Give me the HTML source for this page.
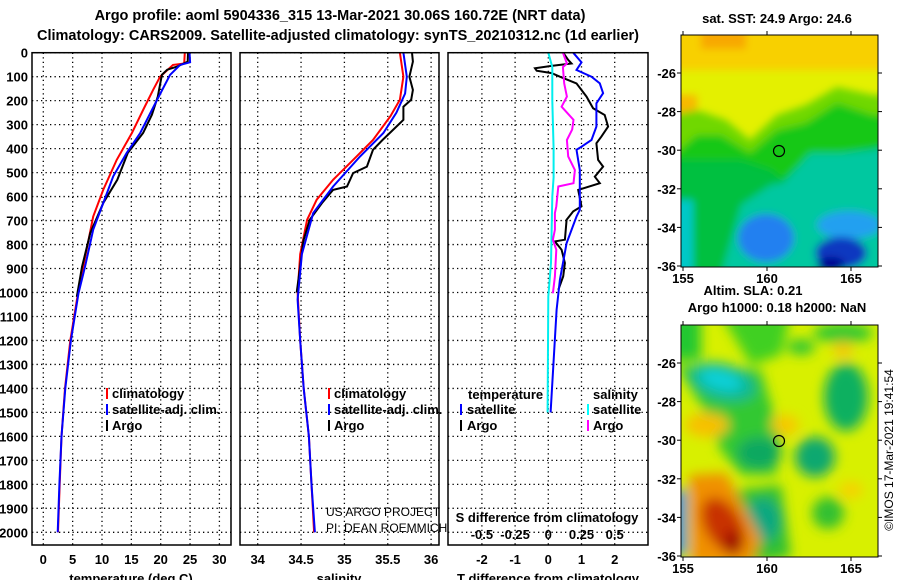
<!DOCTYPE html>
<html><head><meta charset="utf-8">
<style>
html,body{margin:0;padding:0;background:#fff;}
svg{display:block;font-family:"Liberation Sans",Arial,sans-serif;}
.b{font-weight:bold;font-size:13px;}
.t{font-weight:bold;font-size:14.5px;}
</style></head>
<body>
<svg id="chart" width="900" height="580" viewBox="0 0 900 580">
<defs>
<clipPath id="c1"><rect x="32" y="52" width="199" height="493"/></clipPath>
<clipPath id="c2"><rect x="240" y="52" width="199" height="493"/></clipPath>
<clipPath id="c3"><rect x="448" y="52" width="200" height="493"/></clipPath>
<clipPath id="cm1"><rect x="681" y="35" width="197" height="232"/></clipPath>
<clipPath id="cm2"><rect x="681" y="325" width="197" height="232"/></clipPath>
<filter id="bl" x="-20%" y="-20%" width="140%" height="140%"><feGaussianBlur stdDeviation="4"/></filter>
<filter id="bl2" x="-20%" y="-20%" width="140%" height="140%"><feGaussianBlur stdDeviation="6"/></filter>
</defs>

<text class="t" x="340" y="20" text-anchor="middle">Argo profile: aoml 5904336_315 13-Mar-2021 30.06S 160.72E (NRT data)</text>
<text class="t" x="338" y="40" text-anchor="middle">Climatology: CARS2009. Satellite-adjusted climatology: synTS_20210312.nc (1d earlier)</text>

<g id="grid"></g>
<g id="series"></g>
<g id="axes"></g>

<!-- legends -->
<g class="b">
<rect x="106" y="388" width="2" height="11" fill="#f00"/><text x="112" y="398">climatology</text>
<rect x="106" y="404" width="2" height="11" fill="#00f"/><text x="112" y="414">satellite-adj. clim.</text>
<rect x="106" y="420" width="2" height="11" fill="#000"/><text x="112" y="430">Argo</text>
</g>
<g class="b">
<rect x="328" y="388" width="2" height="11" fill="#f00"/><text x="334" y="398">climatology</text>
<rect x="328" y="404" width="2" height="11" fill="#00f"/><text x="334" y="414">satellite-adj. clim.</text>
<rect x="328" y="420" width="2" height="11" fill="#000"/><text x="334" y="430">Argo</text>
</g>
<g class="b">
<text x="468" y="399">temperature</text>
<rect x="460" y="404" width="2" height="11" fill="#00f"/><text x="467" y="414">satellite</text>
<rect x="460" y="420" width="2" height="11" fill="#000"/><text x="467" y="430">Argo</text>
<text x="593" y="399">salinity</text>
<rect x="587" y="404" width="2" height="11" fill="#0ff"/><text x="593" y="414">satellite</text>
<rect x="587" y="420" width="2" height="11" fill="#f0f"/><text x="593" y="430">Argo</text>
</g>
<text x="326" y="516" font-size="12">US ARGO PROJECT</text>
<text x="326" y="532" font-size="12">PI: DEAN ROEMMICH</text>
<text class="b" x="547" y="522" text-anchor="middle">S difference from climatology</text>

<!-- maps -->
<g clip-path="url(#cm1)">
<rect x="681" y="35" width="197" height="232" fill="#e4f000"/>
<g filter="url(#bl)" transform="translate(681,35)">
<rect x="-10" y="-10" width="220" height="45" fill="#f8d000"/>
<rect x="20" y="-10" width="45" height="24" fill="#f8a800"/>
<rect x="-10" y="60" width="26" height="62" fill="#f8b800"/>
<polygon points="-10,80 16,75 45,85 69,105 96,80 125,70 156,52 192,60 210,60 210,240 -10,240" fill="#70d800"/>
<polygon points="-10,122 16,100 40,100 69,118 96,95 125,88 156,68 192,80 210,80 210,240 -10,240" fill="#18c818"/>
<polygon points="-10,125 60,125 90,135 102,145 129,120 160,118 192,112 210,110 210,240 -10,240" fill="#00c040"/>
<polygon points="60,170 90,150 102,148 129,118 160,118 192,115 210,110 210,240 40,240" fill="#00c8a0"/>
<rect x="-10" y="165" width="22" height="80" fill="#00c8c8"/>
<ellipse cx="85" cy="203" rx="28" ry="24" fill="#2080f0"/>
<ellipse cx="168" cy="190" rx="32" ry="14" fill="#20a0f0"/>
<ellipse cx="160" cy="218" rx="26" ry="16" fill="#0838c0"/>
<ellipse cx="150" cy="230" rx="14" ry="8" fill="#000090"/>
</g>
</g>
<rect x="681" y="35" width="197" height="232" fill="none" stroke="#000"/>
<circle cx="779" cy="151" r="5.5" fill="none" stroke="#000" stroke-width="1.2"/>

<g clip-path="url(#cm2)">
<rect x="681" y="325" width="197" height="232" fill="#d8f000"/>
<g filter="url(#bl2)" transform="translate(681,325)">
<rect x="-10" y="-10" width="30" height="45" fill="#20c830"/>
<polygon points="40,-10 110,-10 100,30 70,40" fill="#40d020"/>
<polygon points="-5,40 80,45 90,80 100,110 95,150 60,150 40,125 20,80" fill="#30c830"/>
<ellipse cx="42" cy="57" rx="34" ry="18" fill="#10b890" transform="rotate(15 42 57)"/>
<ellipse cx="40" cy="55" rx="22" ry="10" fill="#10d0d8" transform="rotate(15 40 55)"/>
<ellipse cx="78" cy="128" rx="22" ry="16" fill="#10a860"/>
<polygon points="55,165 100,160 110,232 60,240" fill="#30c030"/>
<ellipse cx="82" cy="195" rx="18" ry="22" fill="#10a880"/>
<ellipse cx="165" cy="72" rx="22" ry="34" fill="#10b060"/>
<ellipse cx="134" cy="132" rx="20" ry="20" fill="#10a870"/>
<ellipse cx="147" cy="188" rx="16" ry="16" fill="#30c030"/>
<ellipse cx="120" cy="22" rx="14" ry="8" fill="#30c830"/>
<ellipse cx="162" cy="8" rx="30" ry="10" fill="#30c830"/>
<ellipse cx="26" cy="100" rx="22" ry="12" fill="#f8c000"/>
<ellipse cx="104" cy="100" rx="14" ry="10" fill="#f8c800"/>
<ellipse cx="162" cy="25" rx="10" ry="8" fill="#f8c800"/>
<ellipse cx="170" cy="165" rx="12" ry="8" fill="#f8d000"/>
<polygon points="8,150 45,148 80,215 70,240 10,240" fill="#f09000"/>
<ellipse cx="42" cy="200" rx="18" ry="30" fill="#c83000" transform="rotate(-30 42 200)"/>
<ellipse cx="52" cy="218" rx="10" ry="12" fill="#a01000"/>
<rect x="-10" y="165" width="15" height="65" fill="#2090f0"/>
</g>
</g>
<rect x="681" y="325" width="197" height="232" fill="none" stroke="#000"/>
<circle cx="779" cy="441" r="5.5" fill="none" stroke="#000" stroke-width="1.2"/>

<text class="b" x="777" y="23" text-anchor="middle">sat. SST: 24.9 Argo: 24.6</text>
<text class="b" x="753" y="295" text-anchor="middle">Altim. SLA: 0.21</text>
<text class="b" x="777" y="312" text-anchor="middle">Argo h1000: 0.18 h2000: NaN</text>
<text x="893" y="450" font-size="12" text-anchor="middle" transform="rotate(-90 893 450)">©IMOS 17-Mar-2021 19:41:54</text>
<g id="mapaxes"></g>
</svg>

<script>
// ---- temperature panel data ----
const argoDepth = [0,37,58,71,92,183,259,335,418,530,627,752,893,1018];
const argoTemp  = [24.65,24.6,22.8,21.1,20.2,19.5,18.5,17.0,14.4,12.6,10.2,8.0,6.6,5.7];
const climDepth = [0,45,51,100,155,239,335,447,572,683,830,989,1200,1400,1600,1800,2000];
const climTemp  = [24.1,24.0,22.1,19.9,18.7,17.0,15.1,12.5,10.2,8.5,7.3,6.0,4.6,3.7,3.1,2.8,2.5];
const satDepth  = [0,40,51,92,149,239,335,418,516,627,738,893,1003,1200,1400,1600,1800,2000];
const satTemp   = [24.9,25.0,23.3,21.6,20.4,18.5,16.5,14.2,11.9,10.2,8.5,7.1,6.0,4.7,3.75,3.1,2.75,2.45];
// ---- salinity panel data ----
const argoSalDepth = [0,37,100,155,196,225,280,308,364,405,475,502,558,572,627,697,780,800,890,1000];
const argoSal      = [35.78,35.79,35.75,35.79,35.77,35.68,35.68,35.60,35.44,35.33,35.26,35.10,35.03,34.87,34.74,34.60,34.53,34.52,34.49,34.45];
const climSalDepth = [0,100,196,265,364,447,530,613,697,840,1000,1200,1400,1600,1800,2000];
const climSal      = [35.64,35.68,35.64,35.53,35.33,35.10,34.87,34.68,34.57,34.49,34.46,34.49,34.53,34.59,34.62,34.65];
const satSalDepth  = [0,100,170,250,335,433,558,669,840,1030,1200,1400,1600,1800,2000];
const satSal       = [35.68,35.72,35.70,35.60,35.45,35.18,34.87,34.64,34.51,34.46,34.49,34.53,34.59,34.62,34.66];
// ---- difference panel data ----
const argoTdDepth = [0,30,45,55,65,75,85,100,128,183,232,260,308,350,378,447,475,517,544,572,641,662,697,780,787,822,877,933,989];
const argoTd      = [0.45,0.6,0.7,0.1,-0.4,-0.35,0.1,0.35,0.85,1.15,1.35,1.7,1.8,1.6,1.45,1.5,1.65,1.4,1.55,0.9,1.0,0.75,0.55,0.5,0.2,0.4,0.5,0.45,0.3];
const satTdDepth  = [0,40,72,100,128,169,211,308,364,392,405,489,655,683,794,947,1072,1500];
const satTd       = [0.75,1.0,0.85,1.3,1.55,1.65,1.45,1.45,1.3,1.0,0.85,0.95,0.95,0.85,0.55,0.35,0.25,0.07];
const argoSdDepth = [0,45,60,128,183,225,280,320,364,433,489,544,558,641,669,738,780,822,933,1003];
const argoSd      = [0.11,0.14,0.11,0.12,0.14,0.10,0.19,0.18,0.14,0.15,0.2,0.19,0.075,0.06,0.05,0.05,0.035,0.06,0.05,0.035];
const satSdDepth  = [0,60,200,400,520,600,877,1017,1500];
const satSd       = [0.0,0.03,0.03,0.04,0.04,0.03,0.02,0.0,-0.005];
// ---- tick labels ----
const depthTicks = [0,100,200,300,400,500,600,700,800,900,1000,1100,1200,1300,1400,1500,1600,1700,1800,1900,2000];
const tempTicks = [0,5,10,15,20,25,30];
const salTicks = [34,34.5,35,35.5,36];
const tdTicks = [-2,-1,0,1,2];
const sdTicks = [-0.5,-0.25,0,0.25,0.5];
const latTicks = [-26,-28,-30,-32,-34,-36];
const lonTicks = [155,160,165];

const NS = "http://www.w3.org/2000/svg";
const yD = d => 52.7 + 0.2398*d;
const xT = t => 43.3 + 5.87*t;
const xS = s => 257.7 + 86.7*(s-34);
const xTd = v => 548.3 + 33.2*v;
const xSd = v => 548.3 + 132.8*v;
const yLat1 = l => 73 + (-26-l)*19.3;
const yLat2 = l => 363 + (-26-l)*19.3;
const xLon = l => 767 + (l-160)*16.8;

function mk(tag, attrs, parent){
  const e = document.createElementNS(NS, tag);
  for (const k in attrs) e.setAttribute(k, attrs[k]);
  parent.appendChild(e);
  return e;
}
const grid = document.getElementById('grid');
const series = document.getElementById('series');
const axes = document.getElementById('axes');
const mapaxes = document.getElementById('mapaxes');

const panels = [
  {x0:32, x1:231, clip:'c1', name:'temperature'},
  {x0:240, x1:439, clip:'c2', name:'salinity'},
  {x0:448, x1:648, clip:'c3', name:'difference'}
];
const dash = {stroke:'#000','stroke-width':1.3,'stroke-dasharray':'1.3 3.2'};

panels.forEach(p => {
  depthTicks.forEach(d => {
    const l = mk('line', Object.assign({x1:p.x0, x2:p.x1, y1:yD(d), y2:yD(d)}, dash), grid);
    
    
  });
  const r = mk('rect', {x:p.x0, y:52.7, width:p.x1-p.x0, height:545-52.7, fill:'none', stroke:'#000','stroke-width':1.5}, axes);
  
  
});

function vgrid(xs, fn, name){
  xs.forEach(v => {
    const l = mk('line', Object.assign({x1:fn(v), x2:fn(v), y1:52.7, y2:545}, dash), grid);
    
    
  });
}
vgrid(tempTicks, xT, 'temperature');
vgrid(salTicks, xS, 'salinity');
vgrid(tdTicks, xTd, 't-diff');

depthTicks.forEach(d => {
  const t = mk('text', {x:28, y:yD(d)+5, 'text-anchor':'end', class:'b'}, axes);
  t.textContent = d;
  
  
});
function xlabels(xs, fn, y, name){
  xs.forEach(v => {
    const t = mk('text', {x:fn(v), y:y, 'text-anchor':'middle', class:'b'}, axes);
    t.textContent = v;
    
    
  });
}
xlabels(tempTicks, xT, 564, 'temperature');
xlabels(salTicks, xS, 564, 'salinity');
xlabels(tdTicks, xTd, 564, 't-diff');
xlabels(sdTicks, xSd, 539, 's-diff');

[['temperature (deg C)',131,'temperature-axis-title'],['salinity',339,'salinity-axis-title'],['T difference from climatology',548,'t-diff-axis-title']].forEach(a => {
  const t = mk('text', {x:a[1], y:583, 'text-anchor':'middle', class:'b'}, axes);
  t.textContent = a[0];
  
  
});

function line(depths, vals, fx, color, clip, name){
  const pts = depths.map((d,i) => fx(vals[i]).toFixed(1) + ',' + yD(d).toFixed(1)).join(' ');
  const pl = mk('polyline', {points:pts, fill:'none', stroke:color, 'stroke-width':2, 'clip-path':'url(#'+clip+')'}, series);
  
  
}
line(climDepth, climTemp, xT, '#f00', 'c1', 'temperature-climatology-line');
line(argoDepth, argoTemp, xT, '#000', 'c1', 'temperature-argo-line');
line(satDepth, satTemp, xT, '#00f', 'c1', 'temperature-satellite-line');
line(climSalDepth, climSal, xS, '#f00', 'c2', 'salinity-climatology-line');
line(argoSalDepth, argoSal, xS, '#000', 'c2', 'salinity-argo-line');
line(satSalDepth, satSal, xS, '#00f', 'c2', 'salinity-satellite-line');
line(argoTdDepth, argoTd, xTd, '#000', 'c3', 't-diff-argo-line');
line(satTdDepth, satTd, xTd, '#00f', 'c3', 't-diff-satellite-line');
line(satSdDepth, satSd, xSd, '#0ee', 'c3', 's-diff-satellite-line');
line(argoSdDepth, argoSd, xSd, '#f0f', 'c3', 's-diff-argo-line');

// map axes
[[yLat1,'sst'],[yLat2,'sla']].forEach(m => {
  latTicks.forEach(l => {
    const y = m[0](l);
    const t = mk('text', {x:676, y:y+5, 'text-anchor':'end', class:'b'}, mapaxes);
    t.textContent = l;
    
    
    const k1 = mk('line', {x1:677, x2:681, y1:y, y2:y, stroke:'#000'}, mapaxes);
    
    
    const k2 = mk('line', {x1:878, x2:882, y1:y, y2:y, stroke:'#000'}, mapaxes);
    
    
  });
});
[[283,267,35,'sst'],[573,557,325,'sla']].forEach(m => {
  lonTicks.forEach(l => {
    const t = mk('text', {x:xLon(l), y:m[0], 'text-anchor':'middle', class:'b'}, mapaxes);
    t.textContent = l;
    
    
    const k = mk('line', {x1:xLon(l), x2:xLon(l), y1:m[1], y2:m[1]+4, stroke:'#000'}, mapaxes);
    
    
    const k2 = mk('line', {x1:xLon(l), x2:xLon(l), y1:m[2]-4, y2:m[2], stroke:'#000'}, mapaxes);
    
    
  });
});
</script>
</body></html>
